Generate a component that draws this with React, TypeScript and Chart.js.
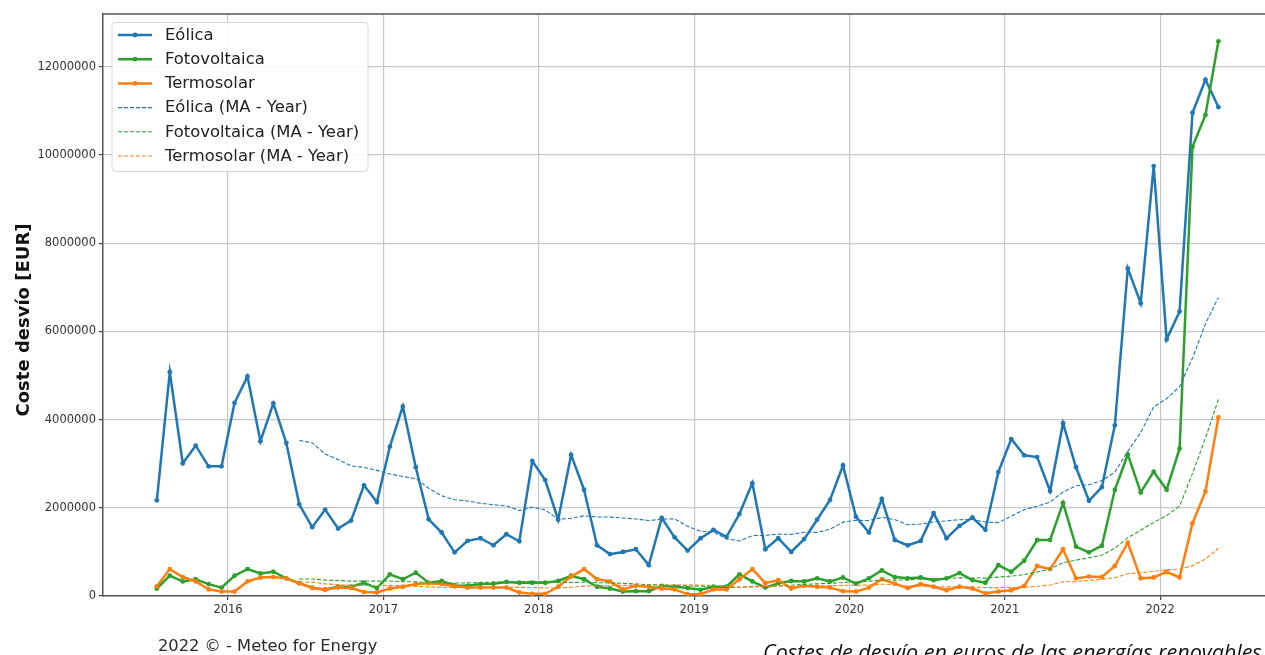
import React, { useEffect, useRef } from "react";
import { Chart, registerables } from "chart.js";

Chart.register(...registerables);

// Monthly periods, July 2015 to May 2022
const months: string[] = [
  "2015-07", "2015-08", "2015-09", "2015-10", "2015-11", "2015-12",
  "2016-01", "2016-02", "2016-03", "2016-04", "2016-05", "2016-06", "2016-07", "2016-08", "2016-09", "2016-10", "2016-11", "2016-12",
  "2017-01", "2017-02", "2017-03", "2017-04", "2017-05", "2017-06", "2017-07", "2017-08", "2017-09", "2017-10", "2017-11", "2017-12",
  "2018-01", "2018-02", "2018-03", "2018-04", "2018-05", "2018-06", "2018-07", "2018-08", "2018-09", "2018-10", "2018-11", "2018-12",
  "2019-01", "2019-02", "2019-03", "2019-04", "2019-05", "2019-06", "2019-07", "2019-08", "2019-09", "2019-10", "2019-11", "2019-12",
  "2020-01", "2020-02", "2020-03", "2020-04", "2020-05", "2020-06", "2020-07", "2020-08", "2020-09", "2020-10", "2020-11", "2020-12",
  "2021-01", "2021-02", "2021-03", "2021-04", "2021-05", "2021-06", "2021-07", "2021-08", "2021-09", "2021-10", "2021-11", "2021-12",
  "2022-01", "2022-02", "2022-03", "2022-04", "2022-05",
];

// Monthly imbalance cost, EUR
const eolica: number[] = [
  2170000, 5080000, 3010000, 3410000, 2940000, 2940000,
  4380000, 4980000, 3510000, 4370000, 3470000, 2080000, 1560000, 1960000, 1530000, 1710000, 2510000, 2130000,
  3390000, 4300000, 2920000, 1740000, 1440000, 990000, 1250000, 1310000, 1150000, 1400000, 1240000, 3060000,
  2630000, 1730000, 3200000, 2410000, 1150000, 950000, 1000000, 1060000, 700000, 1770000, 1330000, 1030000,
  1310000, 1500000, 1340000, 1860000, 2560000, 1060000, 1310000, 1000000, 1290000, 1730000, 2180000, 2960000,
  1800000, 1440000, 2200000, 1270000, 1150000, 1250000, 1880000, 1310000, 1590000, 1780000, 1500000, 2810000,
  3560000, 3190000, 3150000, 2380000, 3920000, 2920000, 2160000, 2470000, 3870000, 7430000, 6640000, 9750000,
  5820000, 6450000, 10960000, 11710000, 11090000,
];

const fotovoltaica: number[] = [
  170000, 460000, 330000, 380000, 270000, 190000,
  460000, 610000, 510000, 550000, 400000, 290000, 190000, 150000, 210000, 210000, 300000, 180000,
  490000, 380000, 530000, 300000, 340000, 240000, 230000, 270000, 280000, 320000, 300000, 300000,
  300000, 340000, 460000, 380000, 210000, 170000, 100000, 110000, 110000, 230000, 210000, 180000,
  140000, 210000, 210000, 490000, 330000, 190000, 290000, 340000, 330000, 400000, 330000, 420000,
  280000, 400000, 580000, 430000, 400000, 420000, 360000, 400000, 520000, 360000, 300000, 700000,
  550000, 800000, 1270000, 1270000, 2110000, 1120000, 990000, 1140000, 2410000, 3210000, 2350000, 2820000,
  2410000, 3340000, 10190000, 10910000, 12580000,
];

const termosolar: number[] = [
  220000, 610000, 430000, 330000, 150000, 100000,
  100000, 330000, 420000, 430000, 400000, 290000, 180000, 140000, 190000, 180000, 90000, 80000,
  170000, 210000, 270000, 290000, 270000, 220000, 190000, 190000, 190000, 190000, 80000, 50000,
  50000, 210000, 440000, 610000, 380000, 330000, 150000, 230000, 210000, 170000, 150000, 40000,
  40000, 150000, 150000, 380000, 610000, 290000, 360000, 170000, 230000, 210000, 190000, 110000,
  100000, 190000, 380000, 280000, 180000, 270000, 210000, 130000, 210000, 170000, 60000, 100000,
  130000, 230000, 680000, 610000, 1060000, 400000, 440000, 430000, 680000, 1210000, 400000, 420000,
  550000, 420000, 1650000, 2370000, 4050000,
];

// Twelve-month moving averages (first value in June 2016)
const eolicaMA: (number | null)[] = [
  null, null, null, null, null, null, null, null, null, null, null,
  3528000, 3478000, 3218000, 3094000, 2953000, 2917000, 2849000,
  2767000, 2710000, 2661000, 2442000, 2273000, 2182000, 2156000, 2102000, 2070000, 2044000, 1938000, 2016000,
  1953000, 1738000, 1762000, 1818000, 1793000, 1790000, 1769000, 1748000, 1711000, 1742000, 1749000, 1580000,
  1470000, 1451000, 1296000, 1250000, 1368000, 1377000, 1403000, 1398000, 1447000, 1443000, 1514000, 1675000,
  1716000, 1711000, 1783000, 1733000, 1616000, 1632000, 1679000, 1705000, 1730000, 1734000, 1678000, 1665000,
  1812000, 1958000, 2037000, 2129000, 2360000, 2499000, 2523000, 2619000, 2809000, 3280000, 3708000, 4287000,
  4475000, 4747000, 5398000, 6175000, 6773000,
];

const fotovoltaicaMA: (number | null)[] = [
  null, null, null, null, null, null, null, null, null, null, null,
  385000, 387000, 361000, 351000, 337000, 339000, 338000,
  341000, 322000, 323000, 303000, 298000, 293000, 297000, 307000, 313000, 322000, 322000, 332000,
  316000, 313000, 307000, 313000, 303000, 297000, 286000, 273000, 258000, 251000, 243000, 233000,
  220000, 209000, 188000, 198000, 208000, 209000, 225000, 244000, 263000, 277000, 287000, 307000,
  318000, 334000, 365000, 360000, 366000, 385000, 391000, 396000, 412000, 408000, 406000, 429000,
  452000, 485000, 543000, 613000, 755000, 813000, 866000, 928000, 1085000, 1323000, 1493000, 1670000,
  1825000, 2037000, 2780000, 3583000, 4456000,
];

const termosolarMA: (number | null)[] = [
  null, null, null, null, null, null, null, null, null, null, null,
  318000, 314000, 275000, 255000, 243000, 238000, 236000,
  242000, 232000, 219000, 208000, 197000, 191000, 192000, 196000, 196000, 197000, 196000, 193000,
  183000, 183000, 198000, 224000, 233000, 243000, 239000, 243000, 244000, 243000, 248000, 248000,
  247000, 242000, 218000, 198000, 218000, 214000, 232000, 227000, 228000, 232000, 235000, 241000,
  246000, 249000, 268000, 260000, 224000, 223000, 210000, 207000, 205000, 202000, 191000, 190000,
  193000, 196000, 221000, 248000, 322000, 333000, 352000, 377000, 416000, 503000, 531000, 558000,
  593000, 608000, 689000, 836000, 1085000,
];

const yearTicks: number[] = [2016, 2017, 2018, 2019, 2020, 2021, 2022];
const valueTicks: number[] = [0, 2000000, 4000000, 6000000, 8000000, 10000000, 12000000];

const yTitle = "Coste desvío [EUR]";
const creditText = "2022 © - Meteo for Energy";
const captionText = "Costes de desvío en euros de las energías renovables";

const BLUE = "#1f77b4";
const GREEN = "#2ca02c";
const ORANGE = "#ff7f0e";
const FONT = '"DejaVu Sans", sans-serif';

// mid-month position on a decimal-year axis
const toX = (m: string) => {
  const [y, mo] = m.split("-").map(Number);
  return y + (mo - 0.5) / 12;
};

const points = (vals: (number | null)[]) =>
  months.map((m, i) => ({ x: toX(m), y: vals[i] }));

const mainLine = (label: string, color: string, vals: number[], order: number) => ({
  label,
  data: points(vals),
  borderColor: color,
  backgroundColor: color,
  borderWidth: 2.5,
  pointRadius: 2.4,
  pointBorderWidth: 0,
  pointBackgroundColor: color,
  pointHoverRadius: 2.4,
  tension: 0,
  fill: false,
  order,
});

const maLine = (label: string, color: string, vals: (number | null)[], order: number) => ({
  label,
  data: points(vals),
  borderColor: color,
  backgroundColor: color,
  borderWidth: 1.1,
  borderDash: [4, 2],
  pointRadius: 0,
  pointHoverRadius: 0,
  tension: 0,
  fill: false,
  spanGaps: false,
  order,
});

// frame line, axis title, legend box and footer texts
const decorPlugin = {
  id: "decor",
  afterDraw(chart: any) {
    const { ctx, chartArea } = chart;
    const { left, right, top } = chartArea;
    ctx.save();

    // top spine
    ctx.strokeStyle = "#555";
    ctx.lineWidth = 1.5;
    ctx.beginPath();
    ctx.moveTo(left, top);
    ctx.lineTo(right, top);
    ctx.stroke();

    // y-axis title
    ctx.save();
    ctx.translate(24, 320);
    ctx.rotate(-Math.PI / 2);
    ctx.fillStyle = "#111";
    ctx.font = `bold 18px ${FONT}`;
    ctx.textAlign = "center";
    ctx.textBaseline = "middle";
    ctx.fillText(yTitle, 0, 0);
    ctx.restore();

    // legend
    const bx = left + 9;
    const by = top + 8.5;
    const bw = 256;
    const bh = 149;
    ctx.beginPath();
    ctx.roundRect(bx, by, bw, bh, 4);
    ctx.fillStyle = "rgba(255,255,255,0.88)";
    ctx.fill();
    ctx.strokeStyle = "#d8d8d8";
    ctx.lineWidth = 1;
    ctx.stroke();

    const ds = chart.data.datasets;
    ds.forEach((d: any, i: number) => {
      const cy = by + 12.5 + i * 24.2;
      ctx.strokeStyle = d.borderColor;
      ctx.lineWidth = d.borderWidth;
      ctx.setLineDash(d.borderDash || []);
      ctx.beginPath();
      ctx.moveTo(bx + 6, cy);
      ctx.lineTo(bx + 40, cy);
      ctx.stroke();
      ctx.setLineDash([]);
      if (d.pointRadius > 0) {
        ctx.fillStyle = d.borderColor;
        ctx.beginPath();
        ctx.arc(bx + 23, cy, d.pointRadius, 0, Math.PI * 2);
        ctx.fill();
      }
      ctx.fillStyle = "#222";
      ctx.font = `16.4px ${FONT}`;
      ctx.textAlign = "left";
      ctx.textBaseline = "middle";
      ctx.fillText(d.label, bx + 53, cy + 0.5);
    });

    // footer texts
    ctx.fillStyle = "#2a2a2a";
    ctx.font = `16.3px ${FONT}`;
    ctx.textAlign = "left";
    ctx.textBaseline = "alphabetic";
    ctx.fillText(creditText, 158, 651);

    ctx.fillStyle = "#111";
    ctx.font = `italic 21.5px "Open Sans", "Noto Sans", sans-serif`;
    ctx.fillText(captionText, 763, 660);

    ctx.restore();
  },
};

export default function App() {
  const canvasRef = useRef<HTMLCanvasElement | null>(null);

  useEffect(() => {
    const canvas = canvasRef.current;
    if (!canvas) return;
    const chart = new Chart(canvas, {
      type: "line",
      data: {
        datasets: [
          mainLine("Eólica", BLUE, eolica, 6),
          mainLine("Fotovoltaica", GREEN, fotovoltaica, 5),
          mainLine("Termosolar", ORANGE, termosolar, 4),
          maLine("Eólica (MA - Year)", BLUE, eolicaMA, 3),
          maLine("Fotovoltaica (MA - Year)", GREEN, fotovoltaicaMA, 2),
          maLine("Termosolar (MA - Year)", ORANGE, termosolarMA, 1),
        ],
      } as any,
      options: {
        responsive: false,
        maintainAspectRatio: false,
        animation: false,
        events: [],
        layout: { padding: { left: 0, right: 0, top: 14, bottom: 0 } },
        plugins: {
          legend: { display: false },
          tooltip: { enabled: false },
          title: { display: false },
        },
        scales: {
          x: {
            type: "linear",
            min: 2015.195,
            max: 2022.917,
            afterBuildTicks: (s: any) => {
              s.ticks = yearTicks.map((v) => ({ value: v }));
            },
            afterFit: (s: any) => {
              s.height = 59;
            },
            ticks: {
              color: "#333",
              font: { family: FONT, size: 11.5 },
              padding: 3,
              maxRotation: 0,
              callback: (v: any) => String(v),
            },
            grid: {
              color: "#c8c8c8",
              lineWidth: 1.2,
              drawTicks: true,
              tickLength: 4,
              tickColor: "#444",
            },
            border: { display: true, color: "#555", width: 1.5 },
          },
          y: {
            type: "linear",
            min: 0,
            max: 13200000,
            afterBuildTicks: (s: any) => {
              s.ticks = valueTicks.map((v) => ({ value: v }));
            },
            afterFit: (s: any) => {
              s.width = 103;
            },
            ticks: {
              color: "#333",
              font: { family: FONT, size: 11.5 },
              padding: 3,
              callback: (v: any) => String(v),
            },
            grid: {
              color: "#c8c8c8",
              lineWidth: 1.2,
              drawTicks: true,
              tickLength: 4,
              tickColor: "#444",
            },
            border: { display: true, color: "#555", width: 1.5 },
          },
        },
      } as any,
      plugins: [decorPlugin],
    });
    return () => chart.destroy();
  }, []);

  // the plot frame runs past the right edge of the view and is cut there
  return (
    <div
      style={{
        position: "absolute",
        left: 0,
        top: 0,
        width: 1265,
        height: 655,
        overflow: "hidden",
        background: "#fff",
      }}
    >
      <canvas ref={canvasRef} width={1305} height={655} style={{ display: "block" }} />
    </div>
  );
}
